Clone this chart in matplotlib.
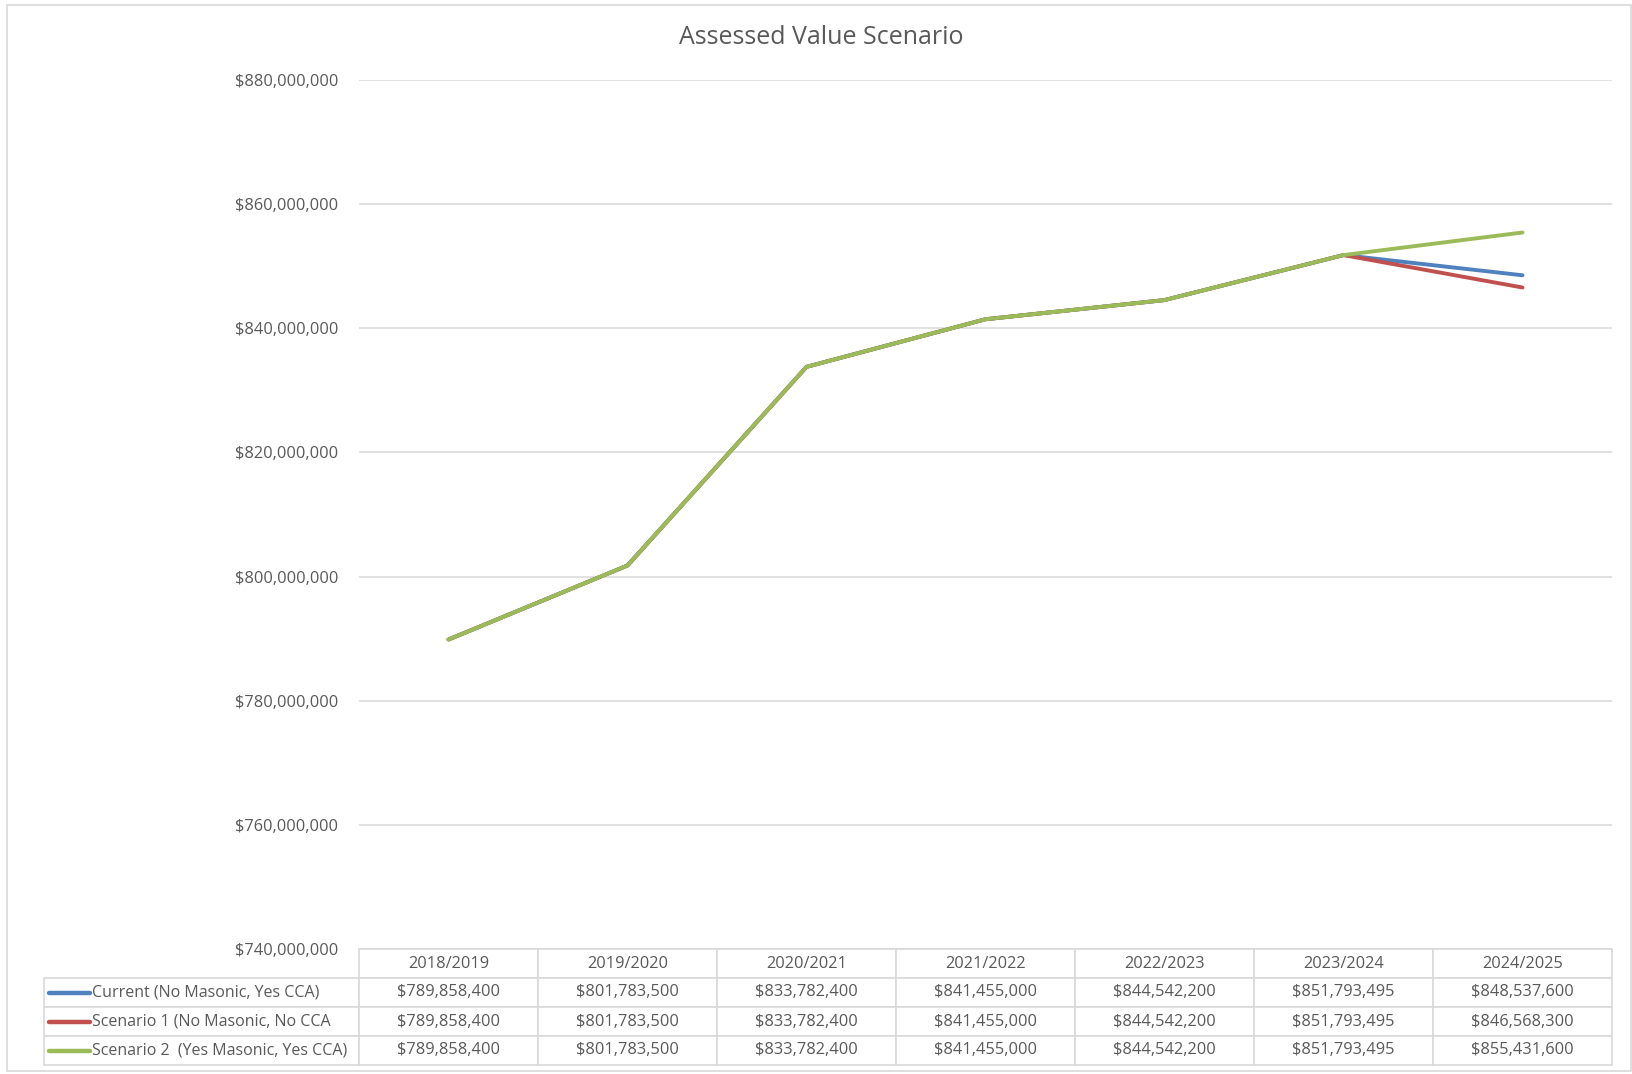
import matplotlib.pyplot as plt
from matplotlib.patches import Rectangle
from matplotlib import font_manager

years = ['2018/2019', '2019/2020', '2020/2021', '2021/2022', '2022/2023', '2023/2024', '2024/2025']
current = [789858400, 801783500, 833782400, 841455000, 844542200, 851793495, 848537600]
scenario1 = [789858400, 801783500, 833782400, 841455000, 844542200, 851793495, 846568300]
scenario2 = [789858400, 801783500, 833782400, 841455000, 844542200, 851793495, 855431600]
series_names = ['Current (No Masonic, Yes CCA)', 'Scenario 1 (No Masonic, No CCA',
                'Scenario 2  (Yes Masonic, Yes CCA)']
series_colors = ['#4F81BD', '#C0504D', '#9BBB59']
yticks = [740000000, 760000000, 780000000, 800000000, 820000000, 840000000, 860000000, 880000000]

names = {f.name for f in font_manager.fontManager.ttflist}
family = 'Liberation Sans Narrow' if 'Liberation Sans Narrow' in names else 'Open Sans'
plt.rcParams['font.family'] = [family, 'DejaVu Sans']

W, H = 1633, 1074
fig = plt.figure(figsize=(W / 100, H / 100), dpi=100)
txt = '#595959'
grid = '#D9D9D9'
fs = 11.8

# outer frame
fig.patches.append(Rectangle((7 / W, 3 / H), (W - 9) / W, (H - 8) / H, transform=fig.transFigure,
                             fill=False, edgecolor=grid, linewidth=1.2))

left, right, top, bottom = 359, 1612, 80, 949
ax = fig.add_axes([left / W, 1 - bottom / H, (right - left) / W, (bottom - top) / H])

x = list(range(len(years)))
for vals, c in zip([current, scenario1, scenario2], series_colors):
    ax.plot(x, vals, color=c, linewidth=2.8, solid_capstyle='round', zorder=3)

ax.set_xlim(-0.5, len(years) - 0.5)
ax.set_ylim(yticks[0], yticks[-1])
ax.set_yticks(yticks)
ax.set_yticklabels(['${:,}'.format(v) for v in yticks])
ax.tick_params(axis='y', length=0, pad=15, labelsize=fs, labelcolor=txt)
ax.set_xticks([])
ax.grid(axis='y', color=grid, linewidth=1.1)
ax.set_axisbelow(True)
for s in ax.spines.values():
    s.set_visible(False)

fig.text(821 / W, 1 - 37 / H, 'Assessed Value Scenario', ha='center', va='center',
         fontsize=18, color=txt)

# data table under the plot
ax_h = bottom - top
tab_h = 116
lab_w = (left - 44) / (right - left)
col_w = 1 / len(years)
cell_text = [[''] + ['${:,}'.format(v) for v in vals] for vals in [current, scenario1, scenario2]]
tab = ax.table(cellText=cell_text, colLabels=[''] + years,
               colWidths=[lab_w] + [col_w] * len(years),
               cellLoc='center', bbox=[-lab_w, -tab_h / ax_h, 1 + lab_w, tab_h / ax_h])
tab.auto_set_font_size(False)
for (r, c), cell in tab.get_celld().items():
    cell.set_edgecolor(grid)
    cell.set_linewidth(1.2)
    cell.get_text().set_color(txt)
    cell.get_text().set_fontsize(fs)
    if r == 0 and c == 0:
        cell.visible_edges = ''

row_h = tab_h / 4 / ax_h
for i, (name, c) in enumerate(zip(series_names, series_colors)):
    yc = -tab_h / ax_h + row_h * (2.5 - i)
    x0 = (49 - left) / (right - left)
    x1 = (90 - left) / (right - left)
    ax.plot([x0, x1], [yc, yc], color=c, linewidth=3.2, transform=ax.transAxes,
            clip_on=False, solid_capstyle='round')
    ax.text((92 - left) / (right - left), yc, name, transform=ax.transAxes,
            ha='left', va='center', fontsize=fs - 0.3, color=txt)

fig.savefig('out.png', dpi=100)
